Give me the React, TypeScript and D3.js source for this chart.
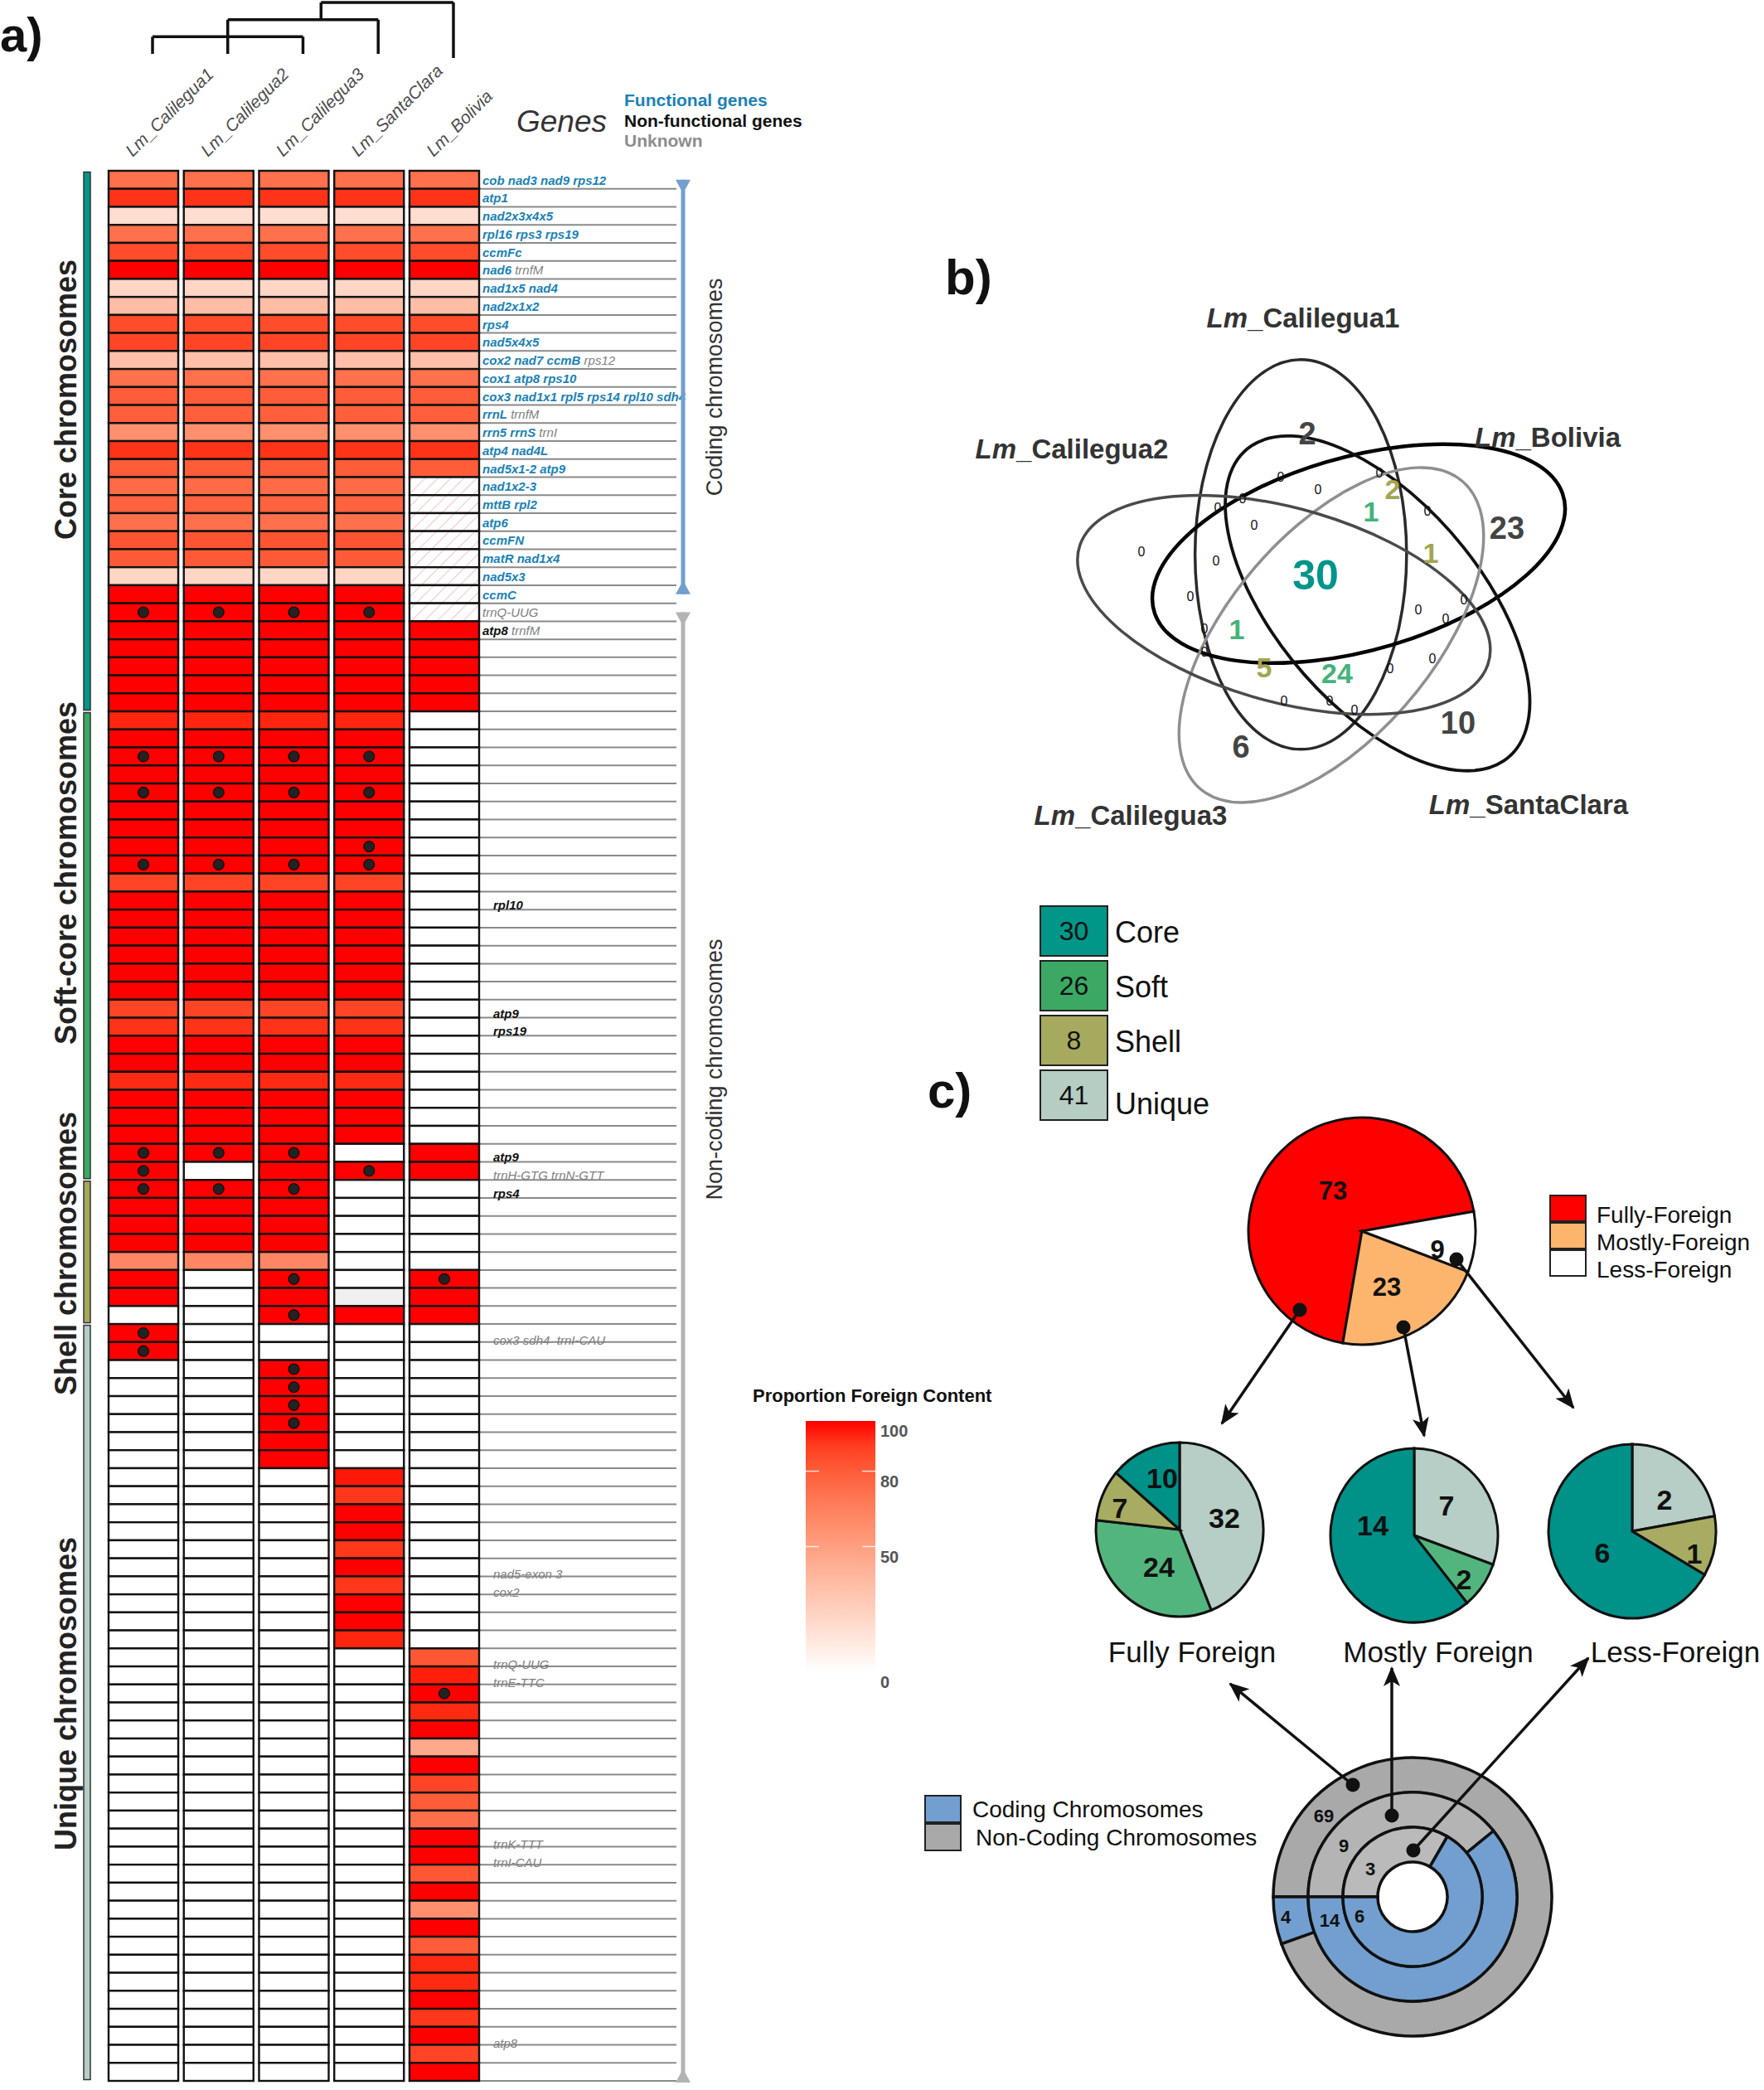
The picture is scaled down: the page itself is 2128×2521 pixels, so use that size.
import * as d3 from "d3";

const W = 2128;
const H = 2521;
const FONT = "'Liberation Sans', Arial, Helvetica, sans-serif";

// ---------- a) heatmap ----------
const samples = ["Lm_Calilegua1", "Lm_Calilegua2", "Lm_Calilegua3", "Lm_SantaClara", "Lm_Bolivia"];

const groupLabels = ["Core chromosomes", "Soft-core chromosomes", "Shell chromosomes", "Unique chromosomes"];
const groupCounts = [30, 26, 8, 42];
const groupColors = ["#009688", "#3ba964", "#a5a85a", "#b5cdc3"];
const groupLabelY = [482, 1053, 1512, 2043];

const _ = null;
// proportion of foreign content, one row per chromosome, one column per sample (null = absent)
const foreign: (number | null)[][] = [
  // core
  [72, 72, 72, 72, 72],
  [93, 93, 93, 93, 93],
  [18, 18, 18, 18, 18],
  [72, 72, 72, 72, 72],
  [86, 86, 86, 86, 86],
  [100, 100, 100, 100, 100],
  [22, 22, 22, 22, 22],
  [35, 35, 35, 35, 35],
  [86, 86, 86, 86, 86],
  [88, 88, 88, 88, 88],
  [34, 34, 34, 34, 34],
  [72, 72, 72, 72, 72],
  [80, 80, 80, 80, 80],
  [79, 79, 79, 79, 79],
  [58, 58, 58, 58, 58],
  [93, 93, 93, 93, 93],
  [80, 80, 80, 80, 80],
  [74, 74, 74, 74, _],
  [78, 78, 78, 78, _],
  [72, 72, 72, 72, _],
  [83, 83, 83, 83, _],
  [81, 81, 81, 81, _],
  [22, 22, 22, 22, _],
  [100, 100, 100, 100, _],
  [100, 100, 100, 100, _],
  [100, 100, 100, 100, 100],
  [100, 100, 100, 100, 100],
  [100, 100, 100, 100, 100],
  [100, 100, 100, 100, 100],
  [100, 100, 100, 100, 100],
  // soft-core
  [96, 96, 96, 96, _],
  [100, 100, 100, 100, _],
  [100, 100, 100, 100, _],
  [100, 100, 100, 100, _],
  [100, 100, 100, 100, _],
  [100, 100, 100, 100, _],
  [100, 100, 100, 100, _],
  [100, 100, 100, 100, _],
  [100, 100, 100, 100, _],
  [88, 88, 88, 88, _],
  [100, 100, 100, 100, _],
  [100, 100, 100, 100, _],
  [100, 100, 100, 100, _],
  [100, 100, 100, 100, _],
  [100, 100, 100, 100, _],
  [100, 100, 100, 100, _],
  [88, 88, 88, 88, _],
  [93, 93, 93, 93, _],
  [100, 100, 100, 100, _],
  [100, 100, 100, 100, _],
  [95, 95, 95, 95, _],
  [100, 100, 100, 100, _],
  [100, 100, 100, 100, _],
  [100, 100, 100, 100, _],
  [100, 100, 100, _, 100],
  [100, _, 100, 100, 100],
  // shell
  [100, 100, 100, _, _],
  [100, 100, 100, _, _],
  [100, 100, 100, _, _],
  [100, 100, 100, _, _],
  [62, 62, 62, _, _],
  [100, _, 100, _, 100],
  [100, _, 100, _, 100],
  [_, _, 100, 100, 100],
  // unique
  [100, _, _, _, _],
  [100, _, _, _, _],
  [_, _, 100, _, _],
  [_, _, 100, _, _],
  [_, _, 100, _, _],
  [_, _, 100, _, _],
  [_, _, 100, _, _],
  [_, _, 100, _, _],
  [_, _, _, 98, _],
  [_, _, _, 92, _],
  [_, _, _, 100, _],
  [_, _, _, 100, _],
  [_, _, _, 92, _],
  [_, _, _, 100, _],
  [_, _, _, 92, _],
  [_, _, _, 100, _],
  [_, _, _, 100, _],
  [_, _, _, 96, _],
  [_, _, _, _, 82],
  [_, _, _, _, 97],
  [_, _, _, _, 100],
  [_, _, _, _, 95],
  [_, _, _, _, 100],
  [_, _, _, _, 45],
  [_, _, _, _, 100],
  [_, _, _, _, 88],
  [_, _, _, _, 80],
  [_, _, _, _, 73],
  [_, _, _, _, 100],
  [_, _, _, _, 100],
  [_, _, _, _, 82],
  [_, _, _, _, 100],
  [_, _, _, _, 58],
  [_, _, _, _, 100],
  [_, _, _, _, 80],
  [_, _, _, _, 95],
  [_, _, _, _, 95],
  [_, _, _, _, 100],
  [_, _, _, _, 92],
  [_, _, _, _, 100],
  [_, _, _, _, 88],
  [_, _, _, _, 100],
];

// [row, sample]
const hatchedCells = [[17, 4], [18, 4], [19, 4], [20, 4], [21, 4], [22, 4], [23, 4], [24, 4]];
const greyCells = [[62, 3]];
const circularCells = [
  [24, 0], [24, 1], [24, 2], [24, 3],
  [32, 0], [32, 1], [32, 2], [32, 3],
  [34, 0], [34, 1], [34, 2], [34, 3],
  [37, 3],
  [38, 0], [38, 1], [38, 2], [38, 3],
  [54, 0], [54, 1], [54, 2],
  [55, 0], [55, 3],
  [56, 0], [56, 1], [56, 2],
  [61, 2], [61, 4],
  [63, 2],
  [64, 0], [65, 0],
  [66, 2], [67, 2], [68, 2], [69, 2],
  [84, 4],
];

// f = functional, n = non-functional, u = unknown
const geneLabels: [number, [string, string][]][] = [
  [0, [["cob nad3 nad9 rps12", "f"]]],
  [1, [["atp1", "f"]]],
  [2, [["nad2x3x4x5", "f"]]],
  [3, [["rpl16 rps3 rps19", "f"]]],
  [4, [["ccmFc", "f"]]],
  [5, [["nad6", "f"], ["trnfM", "u"]]],
  [6, [["nad1x5 nad4", "f"]]],
  [7, [["nad2x1x2", "f"]]],
  [8, [["rps4", "f"]]],
  [9, [["nad5x4x5", "f"]]],
  [10, [["cox2 nad7 ccmB", "f"], ["rps12", "u"]]],
  [11, [["cox1 atp8 rps10", "f"]]],
  [12, [["cox3 nad1x1 rpl5 rps14 rpl10 sdh4", "f"]]],
  [13, [["rrnL", "f"], ["trnfM", "u"]]],
  [14, [["rrn5 rrnS", "f"], ["trnI", "u"]]],
  [15, [["atp4 nad4L", "f"]]],
  [16, [["nad5x1-2 atp9", "f"]]],
  [17, [["nad1x2-3", "f"]]],
  [18, [["mttB rpl2", "f"]]],
  [19, [["atp6", "f"]]],
  [20, [["ccmFN", "f"]]],
  [21, [["matR nad1x4", "f"]]],
  [22, [["nad5x3", "f"]]],
  [23, [["ccmC", "f"]]],
  [24, [["trnQ-UUG", "u"]]],
  [25, [["atp8", "n"], ["trnfM", "u"]]],
  [40, [["rpl10", "n"]]],
  [46, [["atp9", "n"]]],
  [47, [["rps19", "n"]]],
  [54, [["atp9", "n"]]],
  [55, [["trnH-GTG trnN-GTT", "u"]]],
  [56, [["rps4", "n"]]],
  [64, [["cox3 sdh4  trnI-CAU", "u"]]],
  [77, [["nad5-exon 3", "u"]]],
  [78, [["cox2", "u"]]],
  [82, [["trnQ-UUG", "u"]]],
  [83, [["trnE-TTC", "u"]]],
  [92, [["trnK-TTT", "u"]]],
  [93, [["trnI-CAU", "u"]]],
  [103, [["atp8", "u"]]],
];
const geneColor: Record<string, string> = { f: "#1b82b6", n: "#111111", u: "#808080" };
const codingRows = 24;

// dendrogram: nested merges, heights in merge order
const tree = {
  h: 3,
  children: [
    { h: 2, children: [{ h: 1, children: [{ leaf: 0 }, { leaf: 1 }, { leaf: 2 }] }, { leaf: 3 }] },
    { leaf: 4 },
  ],
};

const legendTicks = [0, 50, 80, 100];

// ---------- b) venn ----------
const vennSets = ["Lm_Calilegua1", "Lm_Bolivia", "Lm_SantaClara", "Lm_Calilegua3", "Lm_Calilegua2"]; // clockwise from top
const vennStroke = ["#2a2a2a", "#000000", "#111111", "#8f8f8f", "#4a4a4a"];
const vennWidth = [3.5, 4.5, 3.8, 3.5, 3.5];
const vennLabelPos = [
  [1572, 383], [1867, 527], [1844, 970], [1364, 983], [1293, 541],
];
// region counts: value, x, y, style
const vennCounts: [string, number, number, string][] = [
  ["2", 1577, 523, "big"], ["23", 1818, 637, "big"], ["10", 1759, 872, "big"], ["6", 1497, 901, "big"],
  ["30", 1587, 693, "core"],
  ["1", 1654, 617, "soft"], ["1", 1492, 759, "soft"], ["24", 1613, 812, "soft"],
  ["2", 1680, 590, "shell"], ["1", 1726, 667, "shell"], ["5", 1525, 805, "shell"],
  ["0", 1377, 665, "zero"],
  ["0", 1545, 575, "zero"], ["0", 1499, 601, "zero"], ["0", 1469, 612, "zero"], ["0", 1590, 590, "zero"],
  ["0", 1664, 570, "zero"], ["0", 1513, 633, "zero"], ["0", 1722, 616, "zero"], ["0", 1467, 676, "zero"],
  ["0", 1436, 719, "zero"], ["0", 1453, 758, "zero"], ["0", 1453, 786, "zero"], ["0", 1711, 735, "zero"],
  ["0", 1766, 723, "zero"], ["0", 1744, 746, "zero"], ["0", 1728, 794, "zero"], ["0", 1677, 806, "zero"],
  ["0", 1549, 845, "zero"], ["0", 1604, 845, "zero"], ["0", 1634, 856, "zero"],
];
const vennStyle: Record<string, { size: number; fill: string; weight: number }> = {
  big: { size: 38, fill: "#444444", weight: 700 },
  core: { size: 50, fill: "#00958a", weight: 700 },
  soft: { size: 34, fill: "#45b27a", weight: 700 },
  shell: { size: 34, fill: "#a3a552", weight: 700 },
  zero: { size: 16, fill: "#111111", weight: 400 },
};

// ---------- c) ----------
const classNames = ["Core", "Soft", "Shell", "Unique"];
const classCounts = [30, 26, 8, 41];
const classBoxColors = ["#009688", "#3ba964", "#a5aa5f", "#b5cdc3"];
const classPieColors = ["#009188", "#52b57d", "#a7ac62", "#b6cec5"];

const foreignCats = ["Fully-Foreign", "Mostly-Foreign", "Less-Foreign"];
const foreignCounts = [73, 23, 9];
const foreignColors = ["#ff0000", "#fdb56e", "#ffffff"];

// class breakdown per foreign category, clockwise order Unique, Soft, Shell, Core
const pieOrder = [3, 1, 2, 0];
const fullyByClass = [10, 24, 7, 32]; // Core, Soft, Shell, Unique
const mostlyByClass = [14, 2, 0, 7];
const lessByClass = [6, 0, 1, 2];
const subPieTitles = ["Fully Foreign", "Mostly Foreign", "Less-Foreign"];

// coding / non-coding per foreign category (rings outer -> inner)
const ringNonCoding = [69, 9, 3];
const ringCoding = [4, 14, 6];
const ringGreys = ["#a9a9a9", "#b4b4b4", "#bababa"];

export default function App() {
  const xB = d3.scaleBand<number>().domain(d3.range(samples.length)).range([131, 578]).paddingInner(0.074);
  const yB = d3.scaleBand<number>().domain(d3.range(foreign.length)).range([206, 2510]);
  const rowH = yB.bandwidth();
  const bw = xB.bandwidth();
  const fill = d3.scaleLinear<string>().domain([0, 100]).range(["#ffffff", "#ff0000"]).interpolate(d3.interpolateLab);
  const hatchSet = new Set(hatchedCells.map(([r, c]) => `${r}-${c}`));
  const greySet = new Set(greyCells.map(([r, c]) => `${r}-${c}`));
  const groupStarts = d3.cumsum([0, ...groupCounts]);

  // dendrogram layout
  const dY = d3.scaleLinear().domain([0, 3]).range([65, 3]);
  const leafX = (i: number) => (xB(i) as number) + bw / 2 + 11;
  const dSegs: string[] = [];
  const layout = (n: any): number => {
    if (n.leaf !== undefined) return leafX(n.leaf);
    const xs = n.children.map(layout);
    const y = dY(n.h);
    n.children.forEach((c: any, i: number) => {
      const yc = c.leaf !== undefined ? dY(0) + (c.leaf === 4 ? 5 : 0) : dY(c.h);
      dSegs.push(`M${xs[i]},${y}V${yc}`);
    });
    dSegs.push(`M${d3.min(xs)},${y}H${d3.max(xs)}`);
    const lo = d3.min(xs) as number;
    const hi = d3.max(xs) as number;
    return n.h === 2 ? lo + (hi - lo) * 0.62 : (lo + hi) / 2;
  };
  layout(tree);

  const legY = d3.scaleLinear().domain([0, 100]).range([2017, 1714]);

  // venn geometry (five rotated ellipses, slightly stretched horizontally)
  const vc = [1605, 712];
  const vd = 54;
  const va = 235;
  const vb = 116;
  const vStretch = 1.1;

  // pies
  const topPie = d3
    .pie<number>()
    .sort(null)
    .startAngle((440 * Math.PI) / 180)
    .endAngle((80 * Math.PI) / 180)(foreignCounts);
  const topArc = d3.arc<d3.PieArcDatum<number>>().innerRadius(0).outerRadius(137);
  const subPie = d3.pie<number>().sort(null);
  const subArc = d3.arc<d3.PieArcDatum<number>>().innerRadius(0).outerRadius(101);
  const subData = [fullyByClass, mostlyByClass, lessByClass];
  const subCenters = [[1423, 1845], [1706, 1852], [1969, 1847]];
  const subLabels = [
    [[-21, -62], [-25, 45], [-72, -26], [54, -14]],
    [[-50, -12], [60, 53], null, [39, -36]],
    [[-36, 26], null, [75, 27], [39, -38]],
  ];
  const ringR = [42, 84, 126, 168];
  const ringPie = d3
    .pie<number>()
    .sort(null)
    .startAngle((270 * Math.PI) / 180)
    .endAngle((630 * Math.PI) / 180);
  const donutC = [1704, 2288];
  const ringLabels = [
    [[-107, -98], [-153, 24]],
    [[-83, -62], [-100, 28]],
    [[-51, -34], [-64, 23]],
  ];

  const arrows = [
    [1568, 1580, 1474, 1717],
    [1693, 1601, 1718, 1732],
    [1757, 1519, 1898, 1698],
    [1632, 2153, 1484, 2031],
    [1679, 2190, 1679, 2012],
    [1705, 2232, 1916, 2000],
  ];

  const labelBase = (r: number) => (yB(r) as number) + rowH + (r < 30 ? -5 : r < 64 ? 0 : 3);

  return (
    <svg
      width={W}
      height={H}
      viewBox={`0 0 ${W} ${H}`}
      style={{ position: "absolute", left: 0, top: 0, background: "#fff" }}
      fontFamily={FONT}
    >
      <defs>
        <pattern id="hatch" patternUnits="userSpaceOnUse" width="11" height="11" patternTransform="rotate(45)">
          <rect width="11" height="11" fill="#fff" />
          <line x1="0" y1="0" x2="0" y2="11" stroke="#f4a3a3" strokeWidth="1.3" />
        </pattern>
        <linearGradient id="pfc" x1="0" y1="1" x2="0" y2="0">
          {d3.range(0, 101, 10).map((v) => (
            <stop key={v} offset={`${v}%`} stopColor={fill(v)} />
          ))}
        </linearGradient>
        <marker
          id="arrow"
          viewBox="0 0 12 10"
          refX="11"
          refY="5"
          markerWidth="24"
          markerHeight="20"
          markerUnits="userSpaceOnUse"
          orient="auto"
        >
          <path d="M0,0 L12,5 L0,10 L3,5 Z" fill="#111" />
        </marker>
      </defs>
      <rect width={W} height={H} fill="#fff" />

      {/* ---------- a) ---------- */}
      <text x={0} y={62} fontSize={58} fontWeight={700} fill="#111">a)</text>
      <path d={dSegs.join("")} fill="none" stroke="#111" strokeWidth={3.5} />
      {samples.map((s, i) => (
        <text
          key={s}
          transform={`translate(${(xB(i) as number) + bw / 2 - 13},${190}) rotate(-45)`}
          fontSize={21}
          fontStyle="italic"
          fill="#4d4d4d"
        >
          {s}
        </text>
      ))}
      <text x={623} y={159} fontSize={37} fontStyle="italic" fill="#333">Genes</text>
      <text x={753} y={128} fontSize={21} fontWeight={700} fill={geneColor.f}>Functional genes</text>
      <text x={753} y={153} fontSize={21} fontWeight={700} fill="#111">Non-functional genes</text>
      <text x={753} y={177} fontSize={21} fontWeight={700} fill="#8c8c8c">Unknown</text>

      {/* group side bars */}
      {groupCounts.map((n, g) => (
        <g key={g}>
          <rect
            x={101}
            y={(yB(groupStarts[g]) as number) + 1.5}
            width={8}
            height={n * rowH - 3}
            fill={groupColors[g]}
            stroke="#333"
            strokeWidth={1.5}
          />
          <text
            transform={`translate(${92},${groupLabelY[g]}) rotate(-90)`}
            textAnchor="middle"
            fontSize={36}
            fontWeight={700}
            fill="#222"
          >
            {groupLabels[g]}
          </text>
        </g>
      ))}

      {/* row rules */}
      {foreign.map((_r, r) => (
        <line
          key={r}
          x1={578}
          x2={816}
          y1={(yB(r) as number) + rowH}
          y2={(yB(r) as number) + rowH}
          stroke="#8a8a8a"
          strokeWidth={2}
        />
      ))}

      {/* cells */}
      {foreign.map((row, r) =>
        row.map((v, c) => {
          const key = `${r}-${c}`;
          const f = hatchSet.has(key) ? "url(#hatch)" : greySet.has(key) ? "#efefef" : v == null ? "#ffffff" : fill(v);
          return (
            <rect
              key={key}
              x={xB(c)}
              y={yB(r)}
              width={bw}
              height={rowH}
              fill={f}
              stroke="#111"
              strokeWidth={2.4}
            />
          );
        })
      )}
      {circularCells.map(([r, c]) => (
        <circle
          key={`d${r}-${c}`}
          cx={(xB(c) as number) + bw / 2}
          cy={(yB(r) as number) + rowH / 2}
          r={6.5}
          fill="#222"
          stroke="#000"
          strokeWidth={1}
        />
      ))}

      {/* gene labels */}
      {geneLabels.map(([r, parts]) => (
        <text
          key={`g${r}`}
          x={r < 30 ? 582 : 595}
          y={labelBase(r)}
          fontSize={15}
          fontStyle="italic"
          style={{ whiteSpace: "pre" }}
        >
          {parts.map(([t, k], i) => (
            <tspan key={i} fill={geneColor[k]} fontWeight={k === "u" ? 400 : 700}>
              {(i ? " " : "") + t}
            </tspan>
          ))}
        </text>
      ))}

      {/* coding / non-coding brackets */}
      {(() => {
        const x = 824;
        const y0 = (yB(0) as number) + rowH / 2;
        const y1 = (yB(codingRows - 1) as number) + rowH / 2;
        const y2 = (yB(codingRows) as number) + rowH / 2;
        const y3 = 2512;
        const cap = (y: number, dir: number, col: string) => (
          <path d={`M${x - 9},${y}L${x + 9},${y}L${x + 2.5},${y + dir * 12}L${x - 2.5},${y + dir * 12}Z`} fill={col} />
        );
        return (
          <g>
            <line x1={x} x2={x} y1={y0} y2={y1} stroke="#729fcf" strokeWidth={5} />
            {cap(y0, 1, "#729fcf")}
            {cap(y1, -1, "#729fcf")}
            <line x1={x} x2={x} y1={y2} y2={y3} stroke="#b3b3b3" strokeWidth={5} />
            {cap(y2, 1, "#b3b3b3")}
            {cap(y3, -1, "#b3b3b3")}
            <text
              transform={`translate(${871},${(y0 + y1) / 2}) rotate(-90)`}
              textAnchor="middle"
              fontSize={27}
              fill="#333"
            >
              Coding chromosomes
            </text>
            <text transform={`translate(${871},${1290}) rotate(-90)`} textAnchor="middle" fontSize={27} fill="#333">
              Non-coding chromosomes
            </text>
          </g>
        );
      })()}

      {/* colour legend */}
      <text x={908} y={1691} fontSize={22} fontWeight={700} fill="#111">Proportion Foreign Content</text>
      <rect x={972} y={legY(100)} width={84} height={legY(0) - legY(100)} fill="url(#pfc)" />
      {legendTicks.map((t) => (
        <g key={t}>
          {t > 0 && t < 100 && (
            <>
              <line x1={972} x2={988} y1={legY(t)} y2={legY(t)} stroke="#fff" strokeWidth={1.5} opacity={0.8} />
              <line x1={1040} x2={1056} y1={legY(t)} y2={legY(t)} stroke="#fff" strokeWidth={1.5} opacity={0.8} />
            </>
          )}
          <text x={1062} y={legY(t) + 19} fontSize={20} fontWeight={700} fill="#555">
            {t}
          </text>
        </g>
      ))}

      {/* ---------- b) venn ---------- */}
      <text x={1140} y={355} fontSize={60} fontWeight={700} fill="#111">b)</text>
      <g transform={`translate(${vc[0]},${vc[1]}) scale(${vStretch},1) translate(${-vc[0]},${-vc[1]})`}>
        {vennSets.map((s, i) => {
          const off = ((127 - 72 * i) * Math.PI) / 180;
          const cx = vc[0] + vd * Math.cos(off);
          const cy = vc[1] - vd * Math.sin(off);
          const rot = -(90 - 72 * i);
          return (
            <ellipse
              key={s}
              cx={cx}
              cy={cy}
              rx={va}
              ry={vb}
              transform={`rotate(${rot},${cx},${cy})`}
              fill="none"
              stroke={vennStroke[i]}
              strokeWidth={vennWidth[i]}
              vectorEffect="non-scaling-stroke"
            />
          );
        })}
      </g>
      {vennSets.map((s, i) => (
        <text
          key={`l${s}`}
          x={vennLabelPos[i][0]}
          y={vennLabelPos[i][1]}
          dy="0.35em"
          textAnchor="middle"
          fontSize={33}
          fontWeight={700}
          fill="#333"
        >
          <tspan fontStyle="italic">Lm</tspan>
          {s.slice(2)}
        </text>
      ))}
      {vennCounts.map(([v, x, y, st], i) => (
        <text
          key={`c${i}`}
          x={x}
          y={y}
          dy="0.35em"
          textAnchor="middle"
          fontSize={vennStyle[st].size}
          fontWeight={vennStyle[st].weight}
          fill={vennStyle[st].fill}
        >
          {v}
        </text>
      ))}

      {/* ---------- c) ---------- */}
      <text x={1119} y={1336} fontSize={60} fontWeight={700} fill="#111">c)</text>
      {classNames.map((n, i) => {
        const y = 1093 + i * 66;
        return (
          <g key={n}>
            <rect x={1255} y={y} width={81} height={60} fill={classBoxColors[i]} stroke="#222" strokeWidth={2} />
            <text x={1295.5} y={y + 41} textAnchor="middle" fontSize={32} fill="#111">
              {classCounts[i]}
            </text>
            <text x={1345} y={y + 44 + (i === 3 ? 9 : 0)} fontSize={36} fill="#111">
              {n}
            </text>
          </g>
        );
      })}

      {/* top pie */}
      <g transform="translate(1643,1485)">
        {topPie.map((d, i) => (
          <path key={i} d={topArc(d) as string} fill={foreignColors[i]} stroke="#111" strokeWidth={3} />
        ))}
        <text x={-35} y={-49} dy="0.35em" textAnchor="middle" fontSize={31} fontWeight={700} fill="#111">73</text>
        <text x={30} y={67} dy="0.35em" textAnchor="middle" fontSize={31} fontWeight={700} fill="#111">23</text>
        <text x={91} y={22} dy="0.35em" textAnchor="middle" fontSize={31} fontWeight={700} fill="#111">9</text>
      </g>
      {foreignCats.map((c, i) => (
        <g key={c}>
          <rect x={1870} y={1442 + i * 33} width={43} height={31} fill={foreignColors[i]} stroke="#222" strokeWidth={2} />
          <text x={1926} y={1475 + i * 33} fontSize={28} fill="#111">
            {c}
          </text>
        </g>
      ))}

      {/* sub pies */}
      {subData.map((vals, p) => {
        const arcs = subPie(pieOrder.map((k) => vals[k]));
        return (
          <g key={p} transform={`translate(${subCenters[p][0]},${subCenters[p][1]}) scale(1,1.04)`}>
            {arcs.map((d, j) =>
              d.value > 0 ? (
                <path key={j} d={subArc(d) as string} fill={classPieColors[pieOrder[j]]} stroke="#111" strokeWidth={3} />
              ) : null
            )}
            {vals.map((v, k) => {
              const pos = subLabels[p][k];
              return v > 0 && pos ? (
                <text
                  key={`t${k}`}
                  x={pos[0]}
                  y={pos[1]}
                  dy="0.35em"
                  textAnchor="middle"
                  fontSize={34}
                  fontWeight={700}
                  fill="#111"
                  transform="scale(1,0.962)"
                >
                  {v}
                </text>
              ) : null;
            })}
          </g>
        );
      })}
      {subPieTitles.map((t, i) => (
        <text key={t} x={[1438, 1735, 2021][i]} y={2005} textAnchor="middle" fontSize={35} fill="#111">
          {t}
        </text>
      ))}

      {/* nested donut */}
      <g transform={`translate(${donutC[0]},${donutC[1]})`}>
        {ringNonCoding.map((nc, ri) => {
          const arcs = ringPie([nc, ringCoding[ri]]);
          const arc = d3
            .arc<d3.PieArcDatum<number>>()
            .innerRadius(ringR[2 - ri])
            .outerRadius(ringR[3 - ri]);
          return (
            <g key={ri}>
              {arcs.map((d, j) => (
                <path key={j} d={arc(d) as string} fill={j === 0 ? ringGreys[ri] : "#729fcf"} stroke="#111" strokeWidth={3.5} />
              ))}
              <text x={ringLabels[ri][0][0]} y={ringLabels[ri][0][1]} dy="0.35em" textAnchor="middle" fontSize={22} fontWeight={700} fill="#111">
                {nc}
              </text>
              <text x={ringLabels[ri][1][0]} y={ringLabels[ri][1][1]} dy="0.35em" textAnchor="middle" fontSize={22} fontWeight={700} fill="#111">
                {ringCoding[ri]}
              </text>
            </g>
          );
        })}
      </g>
      <rect x={1116} y={2166} width={43} height={32} fill="#729fcf" stroke="#222" strokeWidth={2} />
      <rect x={1116} y={2200} width={43} height={32} fill="#a9a9a9" stroke="#222" strokeWidth={2} />
      <text x={1173} y={2192} fontSize={28} fill="#111">Coding Chromosomes</text>
      <text x={1177} y={2226} fontSize={28} fill="#111">Non-Coding Chromosomes</text>

      {/* arrows with start dots */}
      {arrows.map(([x1, y1, x2, y2], i) => (
        <g key={`a${i}`}>
          <line x1={x1} y1={y1} x2={x2} y2={y2} stroke="#111" strokeWidth={3.5} markerEnd="url(#arrow)" />
          <circle cx={x1} cy={y1} r={8.5} fill="#111" />
        </g>
      ))}
    </svg>
  );
}
